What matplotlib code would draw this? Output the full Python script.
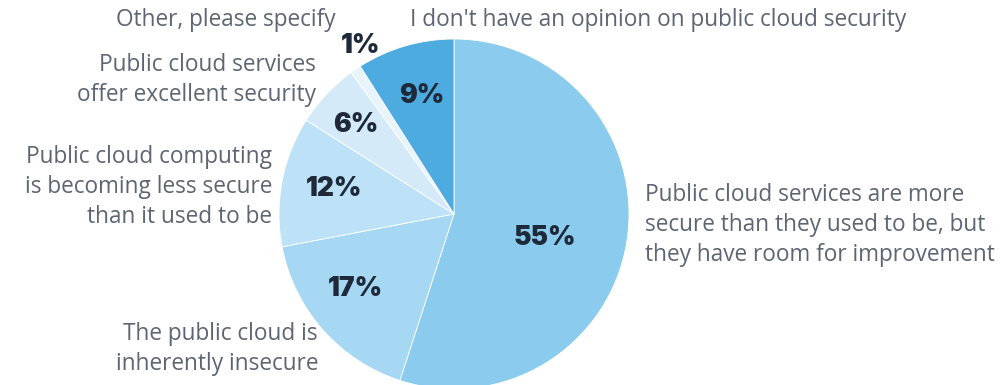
import numpy as np
import matplotlib.pyplot as plt

# Survey answers, clockwise from 12 o'clock
answers = [
    "Public cloud services are more\nsecure than they used to be, but\nthey have room for improvement",
    "The public cloud is\ninherently insecure",
    "Public cloud computing\nis becoming less secure\nthan it used to be",
    "Public cloud services\noffer excellent security",
    "Other, please specify",
    "I don't have an opinion on public cloud security",
]
shares = [55, 17, 12, 6, 1, 9]
colors = ['#8ACBEE', '#A6D7F3', '#BDE2F7', '#D4EAF8', '#E8F4FB', '#4EABDF']

W, H = 1008, 385
fig = plt.figure(figsize=(W / 100, H / 100), dpi=100)

# pie centre ~ (454, 214) px, radius ~ 175 px
cx, cy, r = 454, 214, 175
ax = fig.add_axes([(cx - r) / W, (H - cy - r) / H, 2 * r / W, 2 * r / H])
wedges, _ = ax.pie(shares, colors=colors, startangle=90, counterclock=False,
                   wedgeprops=dict(edgecolor='white', linewidth=0.6))
for w in wedges:
    w.set_clip_on(False)
ax.set_xlim(-1, 1)
ax.set_ylim(-1, 1)
ax.set_aspect('equal')
ax.axis('off')

# percentage labels: (radius fraction, angle tweak in degrees)
pct_pos = [(0.54, -6), (0.71, -4), (0.70, -1), (0.76, 1), (1.10, -5), (0.70, -1)]
for w, val, (d, da) in zip(wedges, shares, pct_pos):
    ang = np.deg2rad((w.theta1 + w.theta2) / 2 + da)
    ax.text(d * np.cos(ang), d * np.sin(ang), f"{val}%", ha='center', va='center',
            fontsize=19, fontweight='black', color='#1E2A3A', family='Inter',
            clip_on=False)

label_color = '#5E6572'
label_font = dict(fontsize=16.3, color=label_color, family='Open Sans',
                  linespacing=1.36)


def px(x, y):
    return x / W, 1 - y / H


fig.text(*px(645, 225), answers[0], ha='left', va='center', **label_font)
fig.text(*px(318, 349), answers[1], ha='right', va='center', **label_font)
fig.text(*px(272, 187), answers[2], ha='right', va='center', **label_font)
fig.text(*px(316, 80), answers[3], ha='right', va='center', **label_font)
fig.text(*px(336, 20), answers[4], ha='right', va='center', **label_font)
fig.text(*px(410, 20), answers[5], ha='left', va='center', **label_font)

fig.savefig('out.png', dpi=100, facecolor='white')
